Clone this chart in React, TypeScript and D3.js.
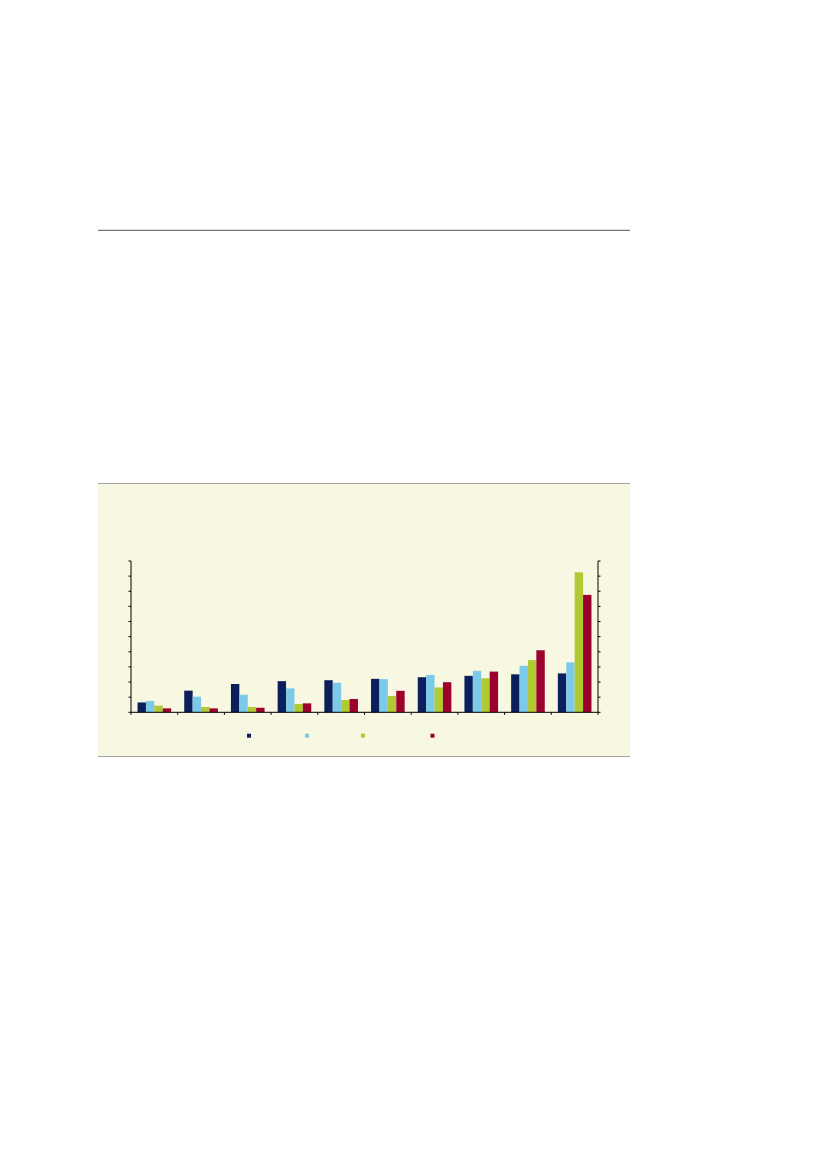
import React from "react";
import * as d3 from "d3";

const categories = ["1", "2", "3", "4", "5", "6", "7", "8", "9", "10"];
const seriesNames = ["s1", "s2", "s3", "s4"];
const series1 = [0.65, 1.43, 1.87, 2.06, 2.12, 2.21, 2.32, 2.41, 2.51, 2.57];
const series2 = [0.75, 1.03, 1.16, 1.58, 1.95, 2.19, 2.47, 2.74, 3.07, 3.3];
const series3 = [0.44, 0.35, 0.35, 0.55, 0.81, 1.07, 1.64, 2.25, 3.45, 9.25];
const series4 = [0.26, 0.26, 0.3, 0.59, 0.88, 1.42, 1.99, 2.69, 4.1, 7.76];
const yTicks = [0, 1, 2, 3, 4, 5, 6, 7, 8, 9, 10];
const colors = ["#0B1F5C", "#7CCAE9", "#B1C933", "#9C002D"];

export default function App() {
  const allSeries = [series1, series2, series3, series4];
  const x0 = 131, x1 = 598, yTop = 561, yBottom = 712.3;
  const x = d3.scaleBand<string>().domain(categories).range([x0, x1]).paddingInner(0.28).paddingOuter(0.14);
  const xs = d3.scaleBand<string>().domain(seriesNames).range([0, x.bandwidth()]);
  const y = d3.scaleLinear().domain([0, 10]).range([yBottom, yTop]);
  const step = (x1 - x0) / categories.length;
  const legendX = [249, 307, 363, 432.5];

  return (
    <svg width={826} height={1169} style={{ position: "absolute", left: 0, top: 0 }}>
      <rect x={0} y={0} width={826} height={1169} fill="#ffffff" />
      <line x1={98} x2={630} y1={230.3} y2={230.3} stroke="#555555" strokeWidth={1} />
      <rect x={98} y={483} width={532} height={273} fill="#F8F7E1" />
      <line x1={98} x2={630} y1={483.5} y2={483.5} stroke="#A8A8A0" strokeWidth={1} />
      <line x1={98} x2={630} y1={756.5} y2={756.5} stroke="#A8A8A0" strokeWidth={1} />
      {allSeries.map((vals, si) =>
        categories.map((c, ci) => (
          <rect
            key={`${si}-${ci}`}
            x={(x(c) as number) + (xs(seriesNames[si]) as number)}
            y={y(vals[ci])}
            width={xs.bandwidth()}
            height={yBottom - y(vals[ci])}
            fill={colors[si]}
          />
        ))
      )}
      {/* axes */}
      <line x1={x0} x2={x0} y1={yTop} y2={yBottom} stroke="#000" strokeWidth={1} />
      <line x1={x1} x2={x1} y1={yTop} y2={yBottom} stroke="#000" strokeWidth={1} />
      <line x1={x0} x2={x1} y1={yBottom} y2={yBottom} stroke="#000" strokeWidth={1} />
      {yTicks.map((t) => (
        <g key={t}>
          <line x1={x0 - 2.5} x2={x0} y1={y(t)} y2={y(t)} stroke="#000" strokeWidth={1} />
          <line x1={x1} x2={x1 + 2.5} y1={y(t)} y2={y(t)} stroke="#000" strokeWidth={1} />
        </g>
      ))}
      {d3.range(categories.length + 1).map((i) => (
        <line key={i} x1={x0 + i * step} x2={x0 + i * step} y1={yBottom} y2={yBottom + 2.5} stroke="#000" strokeWidth={1} />
      ))}
      {colors.map((col, i) => (
        <rect key={i} x={legendX[i] - 2} y={733.7} width={4} height={4} fill={col} />
      ))}
    </svg>
  );
}
